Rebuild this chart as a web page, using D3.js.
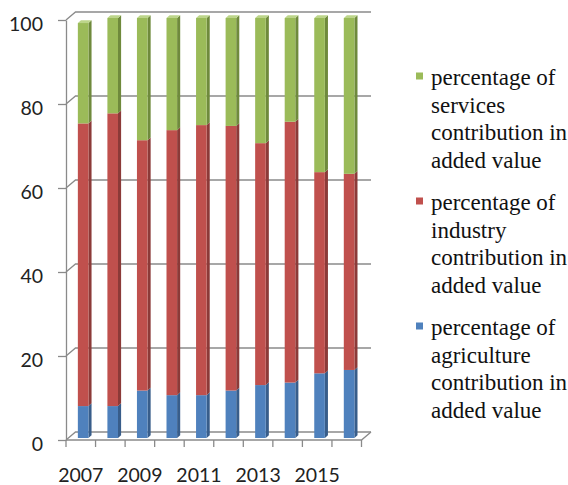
<!DOCTYPE html>
<html>
<head>
<meta charset="utf-8">
<script src="https://cdn.jsdelivr.net/npm/d3@7"></script>
<style>
  html, body { margin: 0; padding: 0; background: #fff; }
  svg { display: block; }
  .axis-label { font-family: Lato, "Open Sans", sans-serif; font-size: 19.5px; fill: #222; }
  .legend-text { font-family: "Liberation Serif", "Times New Roman", serif; font-size: 23px; fill: #111; }
</style>
</head>
<body>
<svg id="chart" width="568" height="485"></svg>
<script>
// Share of each sector in value added, by year (%)
const years = ["2007","2008","2009","2010","2011","2012","2013","2014","2015","2016"];
const agriculture = [7.6, 7.6, 11.3, 10.2, 10.2, 11.3, 12.6, 13.2, 15.4, 16.2];
const industry    = [67.3, 69.7, 59.6, 63.1, 64.3, 63.0, 57.6, 62.1, 47.9, 46.7];
const services    = [23.9, 22.7, 29.1, 26.7, 25.5, 25.7, 29.8, 24.7, 36.7, 37.1];
const yTicks = [0, 20, 40, 60, 80, 100];
const xLabels = ["2007","2009","2011","2013","2015"];

const seriesKeys = ["agriculture", "industry", "services"];
const legendLines = {
  services:    ["percentage of", "services", "contribution in", "added value"],
  industry:    ["percentage of", "industry", "contribution in", "added value"],
  agriculture: ["percentage of", "agriculture", "contribution in", "added value"]
};
const colors = {
  agriculture: { front: "#4F81BD", side: "#385d8a", top: "#7fa3d1" },
  industry:    { front: "#C0504D", side: "#8c3a38", top: "#d88583" },
  services:    { front: "#9BBB59", side: "#6f8a3c", top: "#bcd58a" }
};

const rows = years.map((yr, i) => ({
  year: yr,
  agriculture: agriculture[i],
  industry: industry[i],
  services: services[i]
}));

const svg = d3.select("#chart");

// Plot box on the front plane; depth vector points to the back wall
const x = d3.scaleBand().domain(years).range([66, 361.5]).paddingInner(0).paddingOuter(0);
const y = d3.scaleLinear().domain([0, 100]).range([440, 20]);
const depth = { dx: 9.5, dy: -8 };
const gridColor = "#8a8a8a";

const grid = svg.append("g").attr("stroke", gridColor).attr("stroke-width", 1.3).attr("fill", "none");

// back wall gridlines and their runs along the left wall
yTicks.forEach(v => {
  const yf = y(v);
  grid.append("path")
    .attr("d", `M${x.range()[0]},${yf} L${x.range()[0] + depth.dx},${yf + depth.dy} L${x.range()[1] + depth.dx},${yf + depth.dy}`);
});
// floor front edge and right edge
grid.append("path")
  .attr("d", `M${x.range()[0]},${y(0)} L${x.range()[1]},${y(0)} L${x.range()[1] + depth.dx},${y(0) + depth.dy}`);

// Y axis on the front plane
const yAxis = d3.axisLeft(y).tickValues(yTicks).tickSize(8).tickSizeOuter(0).tickPadding(15);
const gy = svg.append("g").attr("transform", `translate(${x.range()[0]},0)`).call(yAxis);
gy.attr("font-family", null).attr("font-size", null);
gy.select(".domain").attr("stroke", gridColor).attr("stroke-width", 1.3);
gy.selectAll(".tick line").attr("stroke", gridColor).attr("stroke-width", 1.3);
gy.selectAll(".tick text")
  .attr("class", "axis-label")
  .attr("fill", null)
  .attr("dy", "0.55em");

// X axis: ticks at category boundaries, labels every other year
const boundaries = d3.range(years.length + 1).map(i => x.range()[0] + i * x.step());
svg.append("g").selectAll("line").data(boundaries).join("line")
  .attr("x1", d => d).attr("x2", d => d)
  .attr("y1", y(0)).attr("y2", y(0) + 7)
  .attr("stroke", gridColor).attr("stroke-width", 1.3);

const xAxis = d3.axisBottom(x).tickValues(xLabels).tickSize(0).tickPadding(0);
const gx = svg.append("g").attr("transform", `translate(0,${y(0)})`).call(xAxis);
gx.attr("font-family", null).attr("font-size", null);
gx.select(".domain").remove();
gx.selectAll(".tick text")
  .attr("class", "axis-label")
  .attr("fill", null)
  .attr("y", 41.5)
  .attr("dy", 0);

// Stacked 3D columns
const stacked = d3.stack().keys(seriesKeys)(rows);
const barFront = { dx: depth.dx * 0.25, dy: depth.dy * 0.25 };
const barDepth = { dx: 3.1, dy: -2.8 };
const barW = 10.6;

const bars = svg.append("g");
stacked.forEach(layer => {
  const key = layer.key;
  const isTop = key === seriesKeys[seriesKeys.length - 1];
  layer.forEach(seg => {
    const yr = seg.data.year;
    const x0 = x(yr) + x.bandwidth() / 2 + barFront.dx - barW / 2;
    const x1 = x0 + barW;
    const yTop = y(seg[1]) + barFront.dy;
    const yBot = y(seg[0]) + barFront.dy;
    // side face
    bars.append("path")
      .attr("d", `M${x1},${yTop} L${x1 + barDepth.dx},${yTop + barDepth.dy} L${x1 + barDepth.dx},${yBot + barDepth.dy} L${x1},${yBot} Z`)
      .attr("fill", colors[key].side);
    // front face
    bars.append("rect")
      .attr("x", x0).attr("y", yTop)
      .attr("width", barW).attr("height", yBot - yTop)
      .attr("fill", colors[key].front);
    if (isTop) {
      bars.append("path")
        .attr("d", `M${x0},${yTop} L${x0 + barDepth.dx},${yTop + barDepth.dy} L${x1 + barDepth.dx},${yTop + barDepth.dy} L${x1},${yTop} Z`)
        .attr("fill", colors[key].top);
    }
  });
});

// Legend
const legendOrder = ["services", "industry", "agriculture"];
const legend = svg.append("g");
legendOrder.forEach((key, i) => {
  const base = 85 + i * 125;
  legend.append("rect")
    .attr("x", 416).attr("y", base - 12.5)
    .attr("width", 7).attr("height", 7)
    .attr("fill", colors[key].front);
  legendLines[key].forEach((line, j) => {
    legend.append("text")
      .attr("class", "legend-text")
      .attr("x", 431)
      .attr("y", base + j * 27.7)
      .text(line);
  });
});
</script>
</body>
</html>
